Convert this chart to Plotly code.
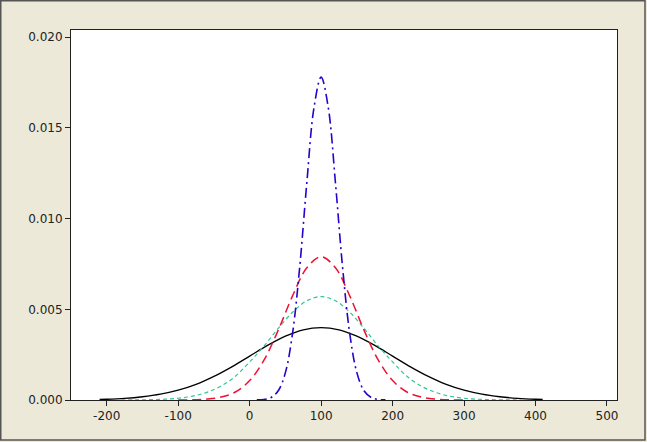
import plotly.graph_objects as go

# ---- data ----
blue_x = [10, 20, 30, 40, 50, 60, 70, 80, 90, 100, 110, 120, 130, 140, 150, 160, 170, 180, 190]
blue_y = [0.000005, 0.00003, 0.00014, 0.00051, 0.00151, 0.00367, 0.00732, 0.01199, 0.01612, 0.0178,
          0.01612, 0.01199, 0.00732, 0.00367, 0.00151, 0.00051, 0.00014, 0.00003, 0.000005]

red_x = [-100, -80, -60, -40, -20, 0, 20, 40, 60, 80, 100, 120, 140, 160, 180, 200, 220, 240, 260, 280, 300]
red_y = [0.000003, 0.00001, 0.00005, 0.00016, 0.00044, 0.00107, 0.00220, 0.00385, 0.00574, 0.00729, 0.0079,
         0.00729, 0.00574, 0.00385, 0.00220, 0.00107, 0.00044, 0.00016, 0.00005, 0.00001, 0.000003]

green_x = [-180, -160, -140, -120, -100, -80, -60, -40, -20, 0, 20, 40, 60, 80, 100,
           120, 140, 160, 180, 200, 220, 240, 260, 280, 300, 320, 340, 360, 380]
green_y = [0.000002, 0.000006, 0.000016, 0.000041, 0.000096, 0.00021, 0.00042, 0.00077, 0.00131, 0.00210,
           0.00297, 0.00395, 0.00484, 0.00547, 0.00570,
           0.00547, 0.00484, 0.00395, 0.00297, 0.00210, 0.00131, 0.00077, 0.00042, 0.00021, 0.000096,
           0.000041, 0.000016, 0.000006, 0.000002]

black_x = [-210, -200, -175, -150, -125, -100, -75, -50, -25, 0, 25, 50, 75, 100,
           125, 150, 175, 200, 225, 250, 275, 300, 325, 350, 375, 400, 410]
black_y = [0.00003, 0.00004, 0.00009, 0.00018, 0.00032, 0.00054, 0.00086, 0.00130, 0.00183, 0.00242,
           0.00301, 0.00352, 0.00387, 0.00399,
           0.00387, 0.00352, 0.00301, 0.00242, 0.00183, 0.00130, 0.00086, 0.00054, 0.00032, 0.00018,
           0.00009, 0.00004, 0.00003]

x_ticks = [-200, -100, 0, 100, 200, 300, 400, 500]
y_ticks = [0.000, 0.005, 0.010, 0.015, 0.020]

series = [
    (black_x, black_y, "#000000", "solid", 1.3),
    (green_x, green_y, "#33c496", "4px,3px", 1.2),
    (red_x, red_y, "#ee1133", "9px,5px", 1.5),
    (blue_x, blue_y, "#2a00cc", "10px,4px,2px,4px", 1.6),
]

fig = go.Figure()
for xs, ys, col, dash, w in series:
    fig.add_trace(go.Scatter(x=xs, y=ys, mode="lines",
                             line=dict(color=col, dash=dash, width=w, shape="spline", smoothing=1.0),
                             showlegend=False, hoverinfo="skip"))

axis_font = dict(family="DejaVu Sans", size=12, color="#222222")
fig.update_layout(
    width=647, height=442,
    margin=dict(l=71, r=30, t=30, b=42, pad=0),
    paper_bgcolor="#ECE9D8",
    plot_bgcolor="#FFFFFF",
    font=axis_font,
    xaxis=dict(range=[-250, 514], tickvals=x_ticks, ticktext=[str(v) for v in x_ticks],
               showgrid=False, zeroline=False, showline=True, linecolor="#222222", linewidth=1,
               mirror=True, ticks="outside", ticklen=5, tickcolor="#222222", tickfont=axis_font),
    yaxis=dict(range=[0, 0.0204], tickvals=y_ticks, ticktext=[f"{v:.3f}" for v in y_ticks],
               showgrid=False, zeroline=False, showline=True, linecolor="#222222", linewidth=1,
               mirror=True, ticks="outside", ticklen=5, tickcolor="#222222", tickfont=axis_font),
    shapes=[dict(type="rect", xref="paper", yref="paper",
                 x0=(0.75 - 71) / 546, x1=(645 - 71) / 546, y0=(400 - 440) / 370, y1=(400 - 0.75) / 370,
                 line=dict(color="#555555", width=1.5), fillcolor="rgba(0,0,0,0)", layer="below")],
)

fig.write_html("out.html", config={"displayModeBar": False},
               post_script="document.body.style.margin='0';document.body.style.background='#ECE9D8';")
